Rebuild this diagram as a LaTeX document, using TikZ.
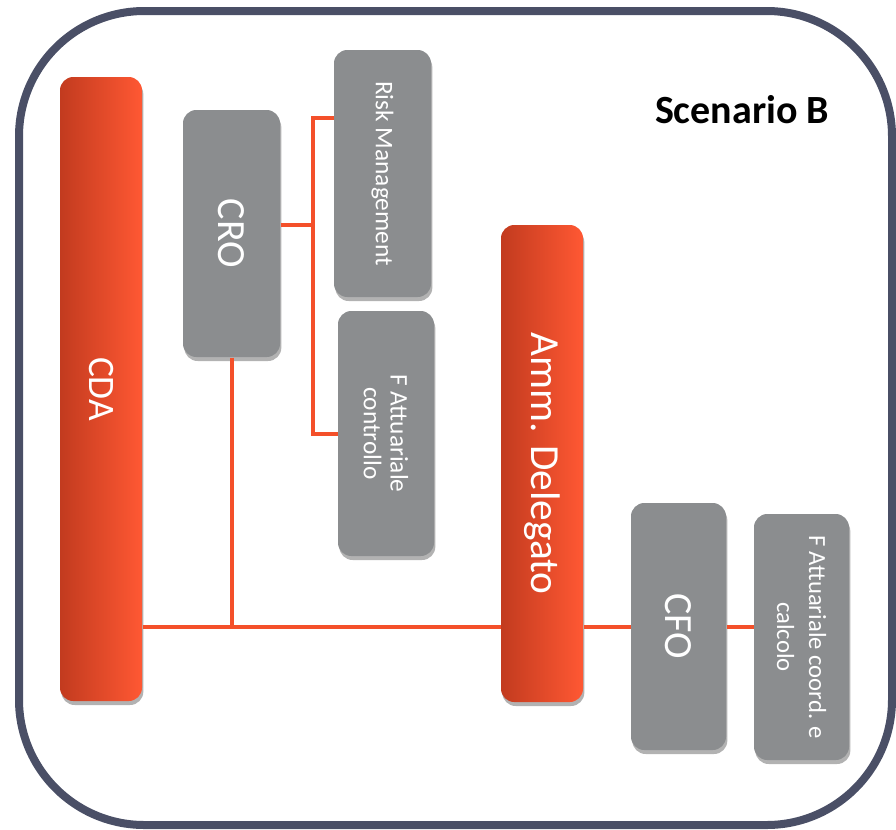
\documentclass[tikz,border=0pt]{standalone}
\usepackage{fontspec}
\setmainfont{Carlito}
\usetikzlibrary{shadows}

\definecolor{frameblue}{RGB}{74,79,102}
\definecolor{boxgray}{RGB}{139,141,143}
\definecolor{orangedark}{RGB}{194,59,31}
\definecolor{orangelight}{RGB}{255,88,51}
\definecolor{linkorange}{RGB}{244,80,42}

\tikzset{every picture/.style={line width=0.75pt}}
\tikzset{
  boxshadow/.style={drop shadow={shadow xshift=1pt, shadow yshift=-3pt, opacity=0.3, fill=black}},
  graybox/.style={rectangle, rounded corners=10pt, fill=boxgray, boxshadow, inner sep=0pt},
  orangebox/.style={rectangle, rounded corners=10pt, left color=orangedark, right color=orangelight, boxshadow, inner sep=0pt},
  boxlabel/.style={rotate=-90, text=white, align=center, inner sep=0pt},
  link/.style={draw=linkorange, line width=3pt},
}

\begin{document}
\begin{tikzpicture}[x=0.75pt,y=0.75pt,yscale=-1,xscale=1]
\useasboundingbox (0,0) rectangle (896,829);

%Outer frame
\draw [frameblue, line width=6pt, rounded corners=94pt] (19,11) rectangle (892,825);

%Connectors (behind boxes)
\coordinate (brk) at (313,225);
\coordinate (brktop) at (313,118);
\coordinate (brkbot) at (313,434);

%Boxes
\node [orangebox, minimum width=61.5pt, minimum height=468pt] (cda) at (101,389) {};
\node [graybox, minimum width=72.75pt, minimum height=185.25pt] (cro) at (231.5,233.5) {};
\node [graybox, minimum width=72.75pt, minimum height=185.25pt] (risk) at (382.5,173.5) {};
\node [graybox, minimum width=72pt, minimum height=183.75pt] (fctrl) at (386,433.5) {};
\node [orangebox, minimum width=61.5pt, minimum height=357.75pt] (ammd) at (542,463.5) {};
\node [graybox, minimum width=71.25pt, minimum height=185.25pt] (cfo) at (678.5,626.5) {};
\node [graybox, minimum width=71.25pt, minimum height=184.5pt] (fcalc) at (801.5,637) {};

%Links
\draw [link] (cro.east |- brk) -- (brk);
\draw [link] (risk.west |- brktop) -- (brktop) -- (brkbot) -- (fctrl.west |- brkbot);
\draw [link] (cro.south) -- (cro.south |- cfo);
\draw [link] (cda.east |- cfo) -- (ammd.west |- cfo);
\draw [link] (ammd.east |- cfo) -- (cfo.west);
\draw [link] (cfo.east) -- (fcalc.west |- cfo);

%Labels
\node [boxlabel, font=\fontsize{28}{32}\selectfont] (cda-t) at (cda) {CDA};
\node [boxlabel, font=\fontsize{30}{34}\selectfont] (cro-t) at (cro) {CRO};
\node [boxlabel, font=\fontsize{19}{22}\selectfont] (risk-t) at (risk) {Risk Management};
\node [boxlabel, font=\fontsize{19}{20}\selectfont] (fctrl-t) at (fctrl) {F Attuariale\\controllo};
\node [boxlabel, font=\fontsize{31}{35}\selectfont] (ammd-t) at (ammd) {Amm. Delegato};
\node [boxlabel, font=\fontsize{30}{34}\selectfont] (cfo-t) at (cfo) {CFO};
\node [boxlabel, font=\fontsize{18.5}{24}\selectfont] (fcalc-t) at (fcalc) {F Attuariale coord. e\\calcolo};

% Text Node
\node [font=\fontsize{30}{34}\selectfont\bfseries] (title) at (742,110) {Scenario B};

\end{tikzpicture}
\end{document}
